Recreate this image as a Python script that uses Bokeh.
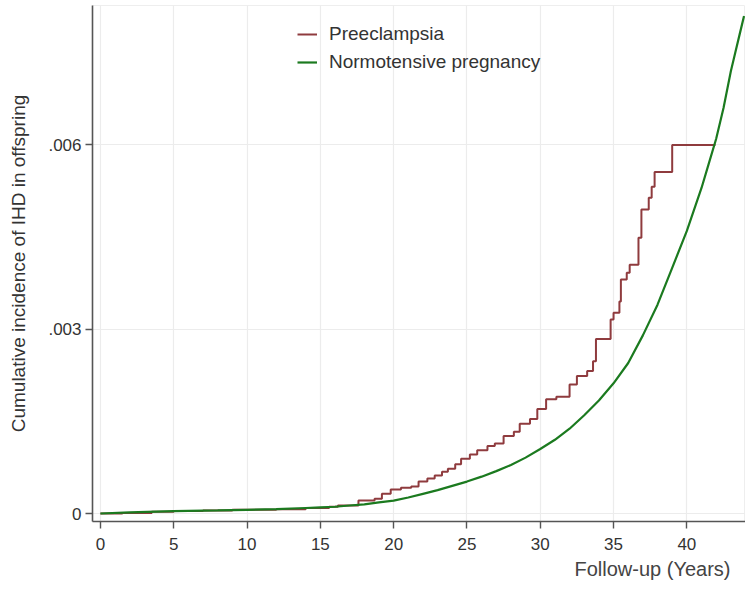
from bokeh.plotting import figure
from bokeh.models import FixedTicker, Range1d, Title
from bokeh.embed import file_html
from bokeh.resources import INLINE

# ---- data ----
pre_t = [0, 1.5, 3.5, 5, 7, 9, 12, 14, 15.6, 16.2, 17.6, 18.7, 19.2, 19.8, 20.5, 21.2,
         21.7, 22.3, 22.8, 23.3, 23.7, 24.2, 24.6, 25.2, 25.7, 26.4, 26.9, 27.5, 28.2,
         28.6, 29.3, 29.8, 30.4, 31.1, 32.0, 32.5, 33.2, 33.6, 33.8, 34.8, 35.0, 35.4,
         35.5, 35.9, 36.1, 36.7, 36.9, 37.4, 37.6, 37.8, 39.0, 41.95]
pre_v = [0, 0.00001, 0.00003, 0.00004, 0.00005, 0.00006, 0.00007, 0.00009, 0.00011,
         0.00013, 0.00021, 0.00024, 0.00032, 0.00039, 0.00042, 0.00044, 0.00052, 0.00057,
         0.00062, 0.00068, 0.00073, 0.0008, 0.00089, 0.00096, 0.00103, 0.0011, 0.00114,
         0.00126, 0.00133, 0.00146, 0.00154, 0.0017, 0.00186, 0.0019, 0.0021, 0.00224,
         0.00232, 0.00248, 0.00284, 0.00316, 0.00327, 0.00345, 0.00381, 0.00392, 0.00405,
         0.00449, 0.00495, 0.00514, 0.00532, 0.00556, 0.006, 0.006]

norm_t = [0, 2, 5, 8, 10, 12, 14, 15, 16, 17, 18, 19, 20, 21, 22, 23, 24, 25, 26, 27, 28,
          29, 30, 31, 32, 33, 34, 35, 36, 37, 38, 39, 40, 41, 41.5, 42, 42.5, 43, 43.3,
          43.6, 43.9]
norm_v = [0, 0.00002, 0.00004, 0.00005, 0.00006, 0.00007, 0.00009, 0.0001, 0.00011,
          0.00013, 0.00015, 0.00018, 0.00021, 0.00026, 0.00032, 0.00038, 0.00045, 0.00052,
          0.0006, 0.00069, 0.00079, 0.00091, 0.00105, 0.0012, 0.00138, 0.0016, 0.00184,
          0.00212, 0.00245, 0.0029, 0.0034, 0.004, 0.0046, 0.0053, 0.0057, 0.0061, 0.0066,
          0.0072, 0.0075, 0.0078, 0.0081]

x_ticks = [0, 5, 10, 15, 20, 25, 30, 35, 40]
y_ticks = [0, 0.003, 0.006]
y_tick_labels = ["0", ".003", ".006"]

FONT = "Liberation Sans"
AXIS_COL = "#555555"
TEXT_COL = "#333333"

p = figure(width=745, height=582,
           x_range=Range1d(-0.54, 44.0), y_range=Range1d(-0.00013, 0.00827),
           output_backend="svg", toolbar_location=None,
           min_border_left=92, min_border_right=0, min_border_top=5, min_border_bottom=59)

p.background_fill_color = "white"
p.border_fill_color = "white"
p.outline_line_color = "#eeeeee"

# grids
p.xgrid.ticker = FixedTicker(ticks=x_ticks)
p.ygrid.ticker = FixedTicker(ticks=y_ticks)
p.xgrid.grid_line_color = "#ececec"
p.ygrid.grid_line_color = "#ececec"
p.xgrid.grid_line_width = 1.2
p.ygrid.grid_line_width = 1.2

# axes
p.xaxis.ticker = FixedTicker(ticks=x_ticks)
p.yaxis.ticker = FixedTicker(ticks=y_ticks)
p.yaxis.major_label_overrides = {t: l for t, l in zip(y_ticks, y_tick_labels)}
for ax in (p.xaxis, p.yaxis):
    ax.axis_line_color = AXIS_COL
    ax.axis_line_width = 1.6
    ax.major_tick_line_color = AXIS_COL
    ax.major_tick_line_width = 1.4
    ax.major_tick_out = 7
    ax.major_tick_in = 0
    ax.minor_tick_line_color = None
    ax.major_label_text_font = FONT
    ax.major_label_text_font_size = "17px"
    ax.major_label_text_color = TEXT_COL
p.xaxis.major_label_standoff = 9
p.yaxis.major_label_standoff = 4
p.yaxis.major_label_orientation = "horizontal"

p.yaxis.axis_label = "Cumulative incidence of IHD in offspring"
p.yaxis.axis_label_text_font = FONT
p.yaxis.axis_label_text_font_style = "normal"
p.yaxis.axis_label_text_font_size = "19px"
p.yaxis.axis_label_text_color = TEXT_COL
p.yaxis.axis_label_standoff = 16

# curves
p.step(pre_t, pre_v, mode="after", line_color="#8f3b3e", line_width=2,
       legend_label="Preeclampsia")
p.line(norm_t, norm_v, line_color="#1b7a1f", line_width=2.2,
       legend_label="Normotensive pregnancy")

p.legend.location = (205, 448)
p.legend.background_fill_alpha = 0
p.legend.border_line_color = None
p.legend.label_text_font = FONT
p.legend.label_text_font_size = "19px"
p.legend.label_text_color = TEXT_COL
p.legend.glyph_width = 20
p.legend.glyph_height = 22
p.legend.label_height = 22
p.legend.label_standoff = 12
p.legend.spacing = 6
p.legend.padding = 2
p.legend.margin = 0

xtitle = Title(text="Follow-up (Years)", align="right", offset=15, standoff=6,
               text_font=FONT, text_font_size="20px", text_font_style="normal",
               text_color="#444444")
p.add_layout(xtitle, "below")

open("out.html", "w").write(file_html(p, INLINE))
